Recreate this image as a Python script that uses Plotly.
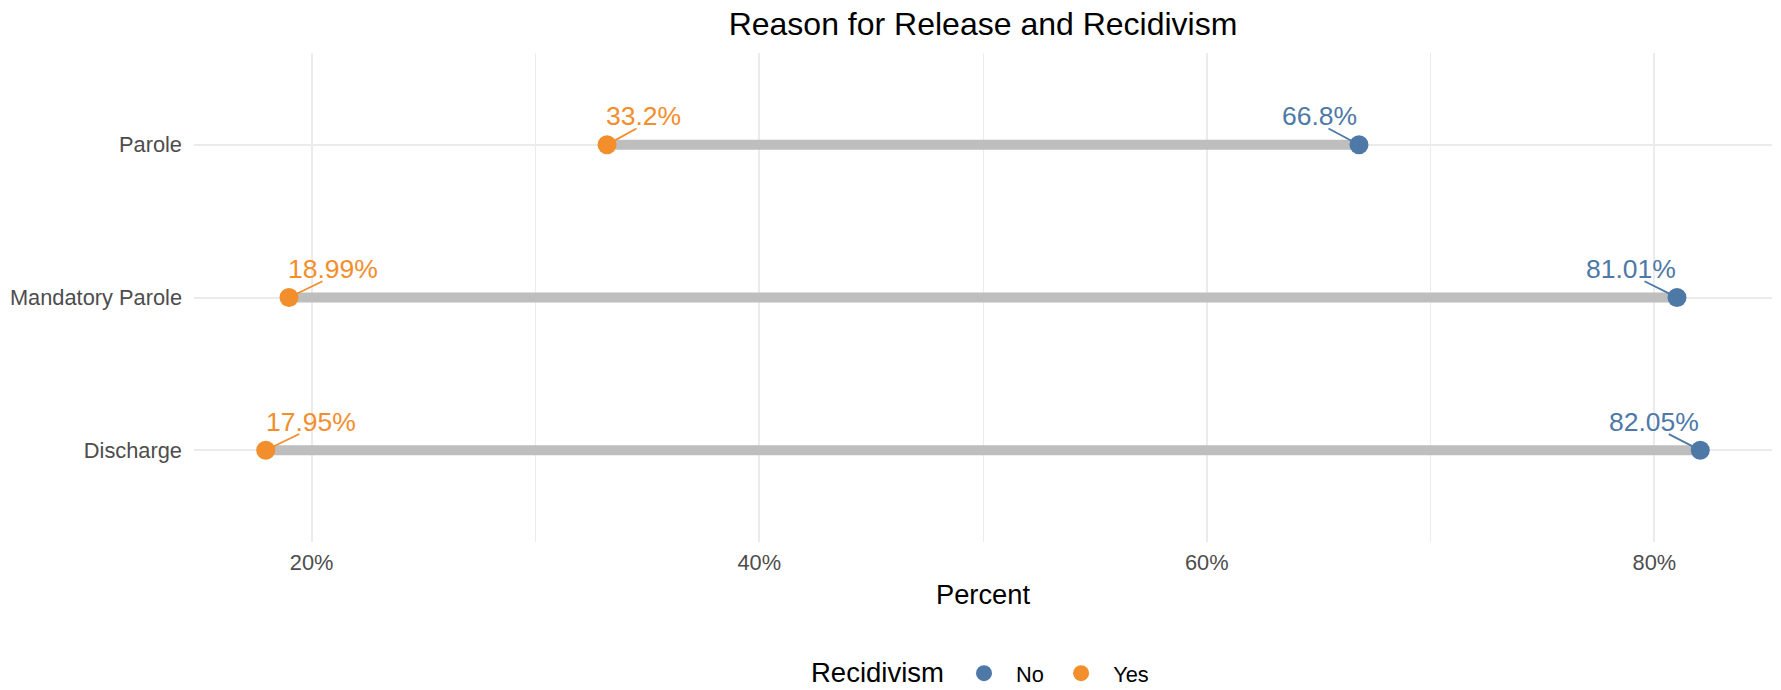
import plotly.graph_objects as go

categories = ["Parole", "Mandatory Parole", "Discharge"]
no_values = [66.8, 81.01, 82.05]
yes_values = [33.2, 18.99, 17.95]
no_labels = ["66.8%", "81.01%", "82.05%"]
yes_labels = ["33.2%", "18.99%", "17.95%"]
x_ticks = [20, 40, 60, 80]
x_tick_labels = ["20%", "40%", "60%", "80%"]
legend_title = "Recidivism"

BLUE = "#4E79A7"
ORANGE = "#F28E2B"
FONT = "Liberation Sans, Arial, sans-serif"
NB = "\u00a0"

W, H = 1781, 690
ML, MR, MT, MB = 194, 9, 53, 148
PW, PH = W - ML - MR, H - MT - MB

fig = go.Figure()

seg_x, seg_y = [], []
for c, a, b in zip(categories, yes_values, no_values):
    seg_x += [a, b, None]
    seg_y += [c, c, None]
fig.add_trace(go.Scatter(x=seg_x, y=seg_y, mode="lines",
                         line=dict(color="#BEBEBE", width=10),
                         showlegend=False, hoverinfo="skip"))

fig.add_trace(go.Scatter(x=no_values, y=categories, mode="markers",
                         name=NB * 2 + "No" + NB * 2,
                         marker=dict(color=BLUE, size=19)))
fig.add_trace(go.Scatter(x=yes_values, y=categories, mode="markers",
                         name=NB * 2 + "Yes",
                         marker=dict(color=ORANGE, size=19)))

# label offsets (px) and leader-line end offsets (px), styling only
yes_text_off = [(36, 28.5), (44, 28.5), (45, 28.5)]
yes_lead_off = [(31, -17), (35, -17), (35, -17)]
no_text_off = [(-39, 28.5), (-46, 28.5), (-46, 28.5)]
no_lead_off = [(-32, -17), (-34, -17), (-33, -17)]


def add_labels(values, labels, text_off, lead_off, color):
    for c, v, t, (tx, ty), (lx, ly) in zip(categories, values, labels, text_off, lead_off):
        fig.add_annotation(x=v, y=c, text=NB, showarrow=True, arrowhead=0,
                           arrowwidth=1.8, arrowcolor=color, ax=lx, ay=ly,
                           standoff=8, font=dict(size=1, color=color))
        fig.add_annotation(x=v, y=c, text=t, showarrow=False, xshift=tx, yshift=ty,
                           font=dict(color=color, size=26.5, family=FONT))


add_labels(yes_values, yes_labels, yes_text_off, yes_lead_off, ORANGE)
add_labels(no_values, no_labels, no_text_off, no_lead_off, BLUE)

# legend title, drawn as text to the left of the legend entries
fig.add_annotation(text=legend_title, xref="paper", yref="paper",
                   x=(946 - ML) / PW, y=(H - MB - 672) / PH,
                   xanchor="right", yanchor="middle", showarrow=False,
                   font=dict(size=27.5, color="black", family=FONT))

fig.update_layout(
    width=W, height=H,
    margin=dict(l=ML, r=MR, t=MT, b=MB, autoexpand=False),
    paper_bgcolor="white", plot_bgcolor="white",
    font=dict(family=FONT),
    title=dict(text="Reason for Release and Recidivism", x=0.5, xref="paper",
               y=1 - 23.5 / H, yref="container", yanchor="middle",
               font=dict(size=32, color="black", family=FONT)),
    legend=dict(orientation="h", x=(964 - ML) / PW, xanchor="left",
                yref="container", y=1 - 673.5 / H, yanchor="middle",
                font=dict(size=21.8, color="black"), itemwidth=30),
    xaxis=dict(range=[14.745, 85.255], tickvals=x_ticks, ticktext=x_tick_labels,
               showgrid=True, gridcolor="#EBEBEB", gridwidth=2, zeroline=False,
               showline=False, ticks="", tickfont=dict(size=21.8, color="#4D4D4D"),
               ticklabelstandoff=5,
               minor=dict(showgrid=True, gridcolor="#EBEBEB", gridwidth=1.4, dtick=10, tick0=0),
               title=dict(text="Percent", font=dict(size=27.3, color="black"), standoff=11)),
    yaxis=dict(categoryorder="array", categoryarray=categories[::-1],
               range=[-0.6, 2.6], showgrid=True, gridcolor="#EBEBEB", gridwidth=1.8,
               zeroline=False, showline=False, ticks="",
               tickfont=dict(size=21.8, color="#4D4D4D"), ticklabelstandoff=11),
)

fig.write_html("out.html", config={"displayModeBar": False},
               post_script="document.body.style.margin='0';")
